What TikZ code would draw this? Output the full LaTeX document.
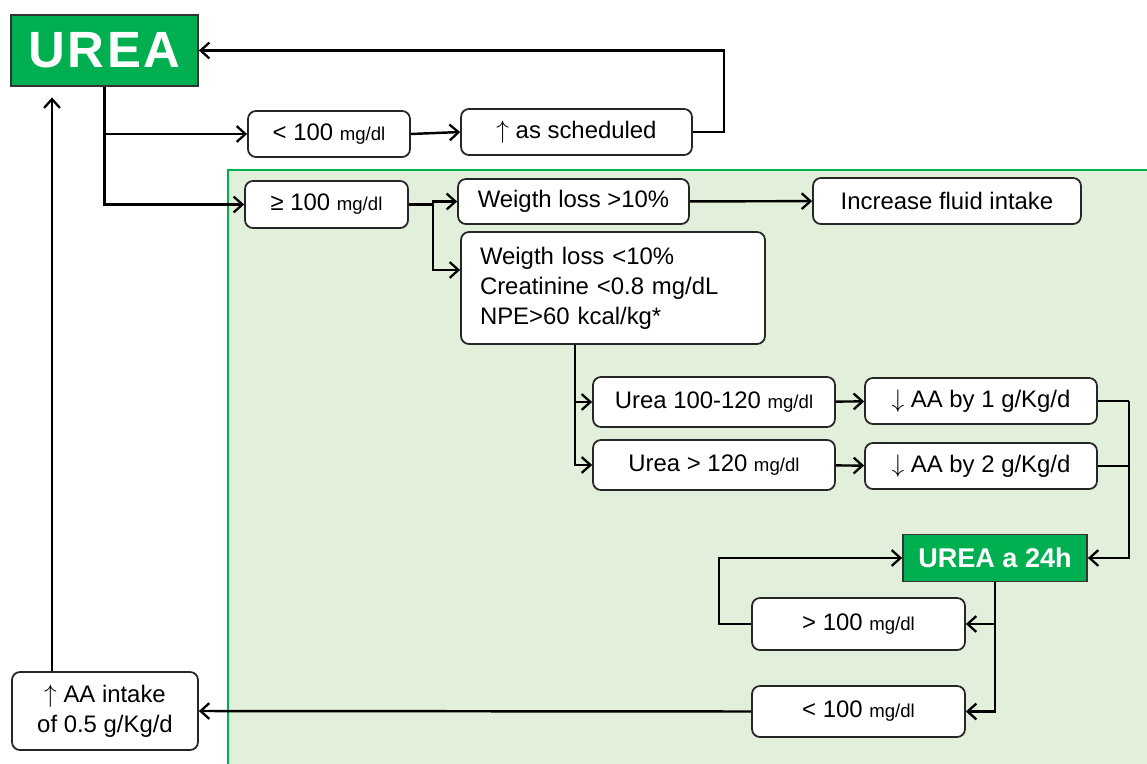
\documentclass[tikz,border=0pt]{standalone}
\usepackage{fontspec}
\setmainfont{Liberation Sans}
\usepackage{xcolor}
\usetikzlibrary{arrows.meta,calc}
\definecolor{ureagreen}{RGB}{0,176,80}
\definecolor{areagreen}{RGB}{226,239,218}
\newcommand{\mgdl}{{\fontsize{10.6}{12}\selectfont mg/dl}}

\begin{document}
\begin{tikzpicture}[x=0.02cm, y=-0.02cm,
    box/.style={draw=black!85, line width=1pt, rounded corners=4.5pt, fill=white,
      inner sep=0pt, font=\fontsize{13.6}{17}\selectfont},
    greenbox/.style={draw=black!80, line width=1pt, fill=ureagreen, text=white,
      inner sep=0pt, font=\bfseries},
    arr/.style={line width=1.4pt, -{Straight Barb[length=5pt,width=9pt,line width=1.3pt]}},
    link/.style={line width=1.4pt}]
  \useasboundingbox (0,0) rectangle (1147,764);
  \clip (0,0) rectangle (1147,764);

  % Draw the shaded area
  \draw[fill=areagreen, draw=ureagreen, line width=1.5pt] (228,170) rectangle (1160,780);

  % Draw the boxes
  \node[greenbox, minimum width=3.74cm, minimum height=1.42cm,
    font=\bfseries\fontsize{29}{30}\selectfont] (urea) at (104.5,50.5) {U\kern1.5pt R\kern1.5pt E\kern1.5pt A};
  \node[box, minimum width=3.24cm, minimum height=0.92cm] (lowA) at (329,134) {< 100 \mgdl};
  \node[box, minimum width=4.62cm, minimum height=0.92cm] (sched) at (576.5,132) {$\uparrow$ as scheduled};
  \node[box, minimum width=3.26cm, minimum height=0.94cm] (highA) at (326.5,204.5) {≥ 100 \mgdl};
  \node[box, minimum width=4.62cm, minimum height=0.9cm] (wlhigh) at (573.5,201.5) {Weigth loss >10\%};
  \node[box, minimum width=5.36cm, minimum height=0.92cm] (fluid) at (947,201) {Increase fluid intake};
  \node[box, text width=5.32cm, inner xsep=0.38cm, minimum height=2.24cm, align=left] (wllow) at (613,288)
    {Weigth loss <10\%\\Creatinine <0.8 mg/dL\\NPE>60 kcal/kg*};
  \node[box, minimum width=4.84cm, minimum height=1cm] (ureaA) at (714,402) {Urea 100-120 \mgdl};
  \node[box, minimum width=4.84cm, minimum height=1cm] (ureaB) at (714,465) {Urea > 120 \mgdl};
  \node[box, minimum width=4.64cm, minimum height=0.92cm] (aaone) at (981,401) {$\downarrow$ AA by 1 g/Kg/d};
  \node[box, minimum width=4.64cm, minimum height=0.92cm] (aatwo) at (981,466) {$\downarrow$ AA by 2 g/Kg/d};
  \node[greenbox, minimum width=3.68cm, minimum height=0.94cm,
    font=\bfseries\fontsize{15.4}{17}\selectfont] (urea24) at (995,558) {UREA a 24h};
  \node[box, minimum width=4.26cm, minimum height=1.04cm] (highB) at (858.5,624) {> 100 \mgdl};
  \node[box, minimum width=4.26cm, minimum height=1.02cm] (lowB) at (858.5,711.5) {< 100 \mgdl};
  \node[box, minimum width=3.72cm, minimum height=1.56cm, align=center] (aaup) at (105,711)
    {$\uparrow$ AA intake\\of 0.5 g/Kg/d};

  % Draw the first split
  \draw[arr] (urea.south) |- (lowA.west);
  \draw[arr] (urea.south) |- (highA.west);
  \draw[arr] (lowA.east) -- (sched.west);
  \draw[arr] (sched.east) -- ++(31,0) |- (urea.east);

  % Draw the branch above 100
  \draw[link] (highA.east) -- ++(24,0) coordinate (jA);
  \draw[arr] (jA) |- (wlhigh.west);
  \draw[arr] (jA) |- ($(wllow.west)+(0,-18)$);
  \draw[arr] (wlhigh) -- (fluid);
  \draw[link] ($(wllow.south)+(-38,0)$) coordinate (jB);
  \draw[arr] (jB) |- (ureaA.west);
  \draw[arr] (jB) |- (ureaB.west);
  \draw[arr] (ureaA) -- (aaone);
  \draw[arr] (ureaB) -- (aatwo);
  \draw[link] (aaone.east) -- ++(31,0) coordinate (jC);
  \draw[link] (aatwo.east) -| (jC);
  \draw[arr] (jC) |- (urea24.east);

  % Draw the control after 24h
  \draw[arr] (urea24.south) |- (highB.east);
  \draw[arr] (urea24.south) |- (lowB.east);
  \draw[arr] (highB.west) -- ++(-32,0) |- (urea24.west);
  \draw[arr] (lowB.west) -- (aaup.east);
  \draw[arr, shorten >=6pt] ($(aaup.north)+(-53,0)$) coordinate (jD) -- (jD |- urea.south);
\end{tikzpicture}
\end{document}
